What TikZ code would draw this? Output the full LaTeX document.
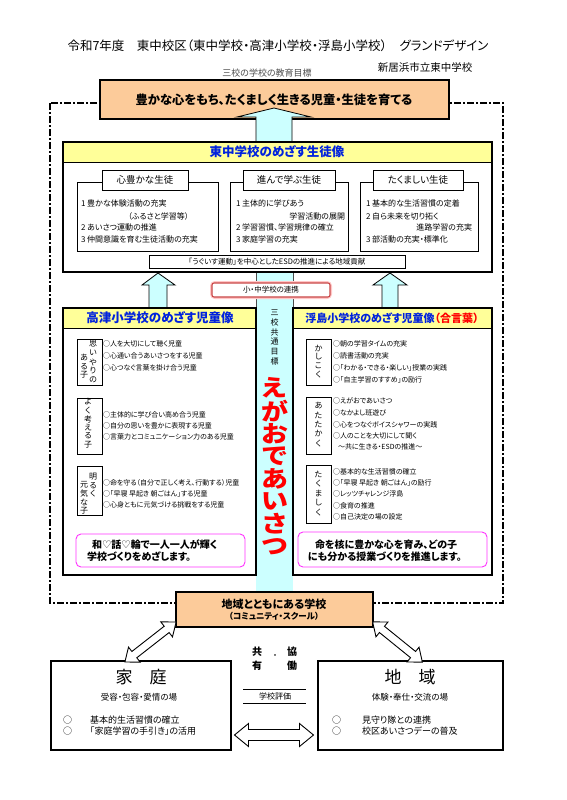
\documentclass[tikz,border=0pt]{standalone}
\usepackage{fontspec}
\setmainfont{Noto Sans CJK JP}[RawFeature=+palt]
\newfontfamily\symfont{DejaVu Sans}
\definecolor{peach}{HTML}{FCCB9A}
\definecolor{lyellow}{HTML}{FFFF99}
\definecolor{lcyan}{HTML}{CCFFFF}
\definecolor{tblue}{HTML}{0022DD}
\definecolor{mag}{HTML}{FF33FF}
\definecolor{glowred}{HTML}{C84646}
\newcommand\fs[1]{\fontsize{#1}{#1}\selectfont}
\newcommand\vcol[5]{\foreach \c [count=\i] in {#5} {\node[vlab] (#1\i) at (#2,{#3+(\i-1)*#4}) {\c};}}
\newcommand\dblarr[7]{%
 \begin{scope}[shift={(#1,#2)}, rotate=#3]
  \draw[whitearrow] ({-#4/2},0) -- ({-#4/2+#7},{#5/2}) -- ({-#4/2+#7},{#6/2}) -- ({#4/2-#7},{#6/2}) -- ({#4/2-#7},{#5/2}) -- ({#4/2},0) -- ({#4/2-#7},{-#5/2}) -- ({#4/2-#7},{-#6/2}) -- ({-#4/2+#7},{-#6/2}) -- ({-#4/2+#7},{-#5/2}) -- cycle;
 \end{scope}}
\tikzset{
  every node/.style={inner sep=0pt, outer sep=0pt},
  thickbox/.style={draw, line width=1.4pt},
  subbox/.style={draw, line width=0.8pt},
  frame/.style={draw, line width=1.1pt, dash pattern=on 7pt off 2pt on 2pt off 2pt},
  cyanarrow/.style={draw, line width=0.8pt, fill=lcyan},
  whitearrow/.style={draw, line width=0.9pt, fill=white},
  item/.style={anchor=west, font=\fs{7}},
  sitem/.style={anchor=west, font=\fs{8}},
  vlab/.style={font=\fs{8}},
  htitle/.style={font=\fs{12.5}\bfseries, text=tblue},
  magbox/.style={draw=mag, line width=0.9pt, rounded corners=5pt, fill=white},
  magtext/.style={anchor=west, font=\fs{10}\bfseries},
  btext/.style={anchor=west, font=\fs{9}},
}
\begin{document}
\begin{tikzpicture}[x=1pt,y=-1pt]
\useasboundingbox (0,0) rectangle (566,800);
% header texts
\node[font=\fs{12.5}] (title) at (278,46) {令和7年度　東中校区（東中学校・高津小学校・浮島小学校）　グランドデザイン};
\node[font=\fs{10.5}] (school) at (425,68) {新居浜市立東中学校};
\node[font=\fs{9}, text=black!70] (goal) at (267,73) {三校の学校の教育目標};
% dashed frame
\draw[frame] (50,103) rectangle (503,603);
% top goal box
\draw[thickbox, fill=peach] (100,80) rectangle (449,119);
\node[font=\fs{12.3}\bfseries] (topgoal) at (274,100) {豊かな心をもち、たくましく生きる児童・生徒を育てる};
% central column
\fill[lcyan] (256,272) rectangle (293,593);
\draw[line width=0.5pt, black!70] (256,272) -- (256,308) (293,272) -- (293,308);
% up arrow to top goal
\draw[cyanarrow] (256,142) -- (256,117) -- (237,117) -- (274,108) -- (311,117) -- (292,117) -- (292,142);
% Higashi box
\draw[thickbox, fill=white] (63,142) rectangle (492,272);
\fill[lyellow] (63,142) rectangle (492,162);
\draw[line width=0.9pt] (63,162) -- (492,162);
\draw[thickbox] (63,142) rectangle (492,272);
\node[htitle] (htitle) at (277,152) {東中学校のめざす生徒像};
% three sub boxes
\draw[subbox] (77,182) rectangle (218,251);
\draw[subbox, fill=white] (102,170) rectangle (188,190);
\node[font=\fs{9.5}] (s1) at (145,180) {心豊かな生徒};
\draw[subbox] (230,182) rectangle (348,251);
\draw[subbox, fill=white] (243,170) rectangle (335,190);
\node[font=\fs{9.5}] (s2) at (289,180) {進んで学ぶ生徒};
\draw[subbox] (360,182) rectangle (478,251);
\draw[subbox, fill=white] (373,170) rectangle (463,190);
\node[font=\fs{9.5}] (s3) at (418,180) {たくましい生徒};
\node[sitem] (a1) at (81,203) {1 豊かな体験活動の充実};
\node[sitem] (a2) at (128,216) {（ふるさと学習等）};
\node[sitem] (a3) at (81,227) {2 あいさつ運動の推進};
\node[sitem] (a4) at (81,239) {3 仲間意識を育む生徒活動の充実};
\node[sitem] (b1) at (236,203) {1 主体的に学びあう};
\node[sitem, anchor=east] (b2) at (345,216) {学習活動の展開};
\node[sitem] (b3) at (236,227) {2 学習習慣、学習規律の確立};
\node[sitem] (b4) at (236,239) {3 家庭学習の充実};
\node[sitem] (c1) at (366,203) {1 基本的な生活習慣の定着};
\node[sitem] (c2) at (366,216) {2 自ら未来を切り拓く};
\node[sitem, anchor=east] (c3) at (472,227) {進路学習の充実};
\node[sitem] (c4) at (366,239) {3 部活動の充実・標準化};
\draw[subbox, fill=white] (149,255) rectangle (405,268);
\node[font=\fs{7.5}] (esd) at (277,261.5) {「うぐいす運動」を中心としたESDの推進による地域貢献};
% up arrows from elementary boxes
\draw[cyanarrow] (149,308) -- (149,285) -- (142,285) -- (158,273) -- (175,285) -- (167,285) -- (167,308);
\draw[cyanarrow] (382,308) -- (382,285) -- (373,285) -- (390,273) -- (407,285) -- (398,285) -- (398,308);
% link box with glow
\draw[line width=4pt, red!22, rounded corners=3pt] (212,283) rectangle (330,297);
\draw[line width=1.1pt, draw=glowred, fill=white, rounded corners=2pt] (212,283) rectangle (330,297);
\node[font=\fs{7.5}] (link) at (271,290) {小・中学校の連携};
% Takatsu box
\draw[thickbox, fill=white] (63,308) rectangle (256,575);
\fill[lyellow] (63,308) rectangle (256,328);
\draw[line width=0.9pt] (63,328) -- (256,328);
\draw[thickbox] (63,308) rectangle (256,575);
\node[htitle] (ttitle) at (160,318) {高津小学校のめざす児童像};
\draw[subbox] (77,339) rectangle (102,385);
\vcol{ta}{93}{344}{9}{思,い,や,り,の}
\vcol{tb}{84}{358}{8.5}{あ,る,子}
\draw[subbox] (77,398) rectangle (102,454);
\vcol{tc}{88}{402}{8.5}{よ,く,考,え,る,子}
\draw[subbox] (77,466) rectangle (102,515);
\vcol{td}{93}{477}{8.2}{明,る,く}
\vcol{te}{84}{485}{8.7}{元,気,な,子}
\node[item] (t1) at (103,344) {○人を大切にして聴く児童};
\node[item] (t2) at (103,356) {○心通い合うあいさつをする児童};
\node[item] (t3) at (103,368) {○心つなぐ言葉を掛け合う児童};
\node[item] (t4) at (103,415) {○主体的に学び合い高め合う児童};
\node[item] (t5) at (103,426) {○自分の思いを豊かに表現する児童};
\node[item] (t6) at (103,437) {○言葉力とコミュニケーション力のある児童};
\node[item] (t7) at (103,483) {○命を守る（自分で正しく考え、行動する）児童};
\node[item] (t8) at (103,494) {○「早寝 早起き 朝ごはん」する児童};
\node[item] (t9) at (103,505) {○心身ともに元気づける挑戦をする児童};
\draw[magbox] (76,534) rectangle (245,567);
\node[magtext] (tm1) at (92,545) {和{\symfont\fs{10.5}\char"2661}話{\symfont\fs{10.5}\char"2661}輪で一人一人が輝く};
\node[magtext] (tm2) at (87,557) {学校づくりをめざします。};
% Ukishima box
\draw[thickbox, fill=white] (293,308) rectangle (492,575);
\fill[lyellow] (293,308) rectangle (492,328);
\draw[line width=0.9pt] (293,328) -- (492,328);
\draw[thickbox] (293,308) rectangle (492,575);
\node[font=\fs{11}\bfseries, text=tblue] (utitle) at (392,318) {浮島小学校のめざす児童像\textcolor{red}{（合言葉）}};
\draw[subbox] (306,339) rectangle (331,385);
\vcol{ua}{318.5}{348}{8.8}{か,し,こ,く}
\draw[subbox] (306,397) rectangle (331,454);
\vcol{ub}{318.5}{406}{9.3}{あ,た,た,か,く}
\draw[subbox] (306,465) rectangle (331,523);
\vcol{uc}{318.5}{474}{9.6}{た,く,ま,し,く}
\node[item] (u1) at (333,344) {○朝の学習タイムの充実};
\node[item] (u2) at (333,356) {○読書活動の充実};
\node[item] (u3) at (333,368) {○「わかる・できる・楽しい」授業の実践};
\node[item] (u4) at (333,380) {○「自主学習のすすめ」の励行};
\node[item] (u5) at (333,401) {○えがおであいさつ};
\node[item] (u6) at (333,413) {○なかよし班遊び};
\node[item] (u7) at (333,425) {○心をつなぐボイスシャワーの実践};
\node[item] (u8) at (333,436) {○人のことを大切にして聞く};
\node[item] (u9) at (338,447) {～共に生きる・ESDの推進～};
\node[item] (u10) at (333,472) {○基本的な生活習慣の確立};
\node[item] (u11) at (333,483) {○「早寝 早起き 朝ごはん」の励行};
\node[item] (u12) at (333,494) {○レッツチャレンジ浮島};
\node[item] (u13) at (333,506) {○食育の推進};
\node[item] (u14) at (333,517) {○自己決定の場の設定};
\draw[magbox] (298,532) rectangle (487,567);
\node[magtext] (um1) at (315,545) {命を核に豊かな心を育み、どの子};
\node[magtext] (um2) at (308,557) {にも分かる授業づくりを推進します。};
% central column texts
\vcol{cm}{274.5}{313}{9.6}{三,校,共,通,目,標}
\foreach \c [count=\i] in {え,が,お,で,あ,い,さ,つ}
  {\node[text=red] (eg\i) at (274.5,{388+(\i-1)*22.6}) {\scalebox{1}[0.86]{\fs{27}\bfseries\c}};}
% community school box
\draw[thickbox, fill=peach] (176,592) rectangle (373,627);
\node[font=\fs{11}\bfseries] (cs1) at (274,604) {地域とともにある学校};
\node[font=\fs{8.5}\bfseries] (cs2) at (274,616) {（コミュニティ・スクール）};
% home / region boxes
\draw[thickbox, fill=white] (51,661) rectangle (231,750);
\node[font=\fs{17}] (home) at (141,677) {家　庭};
\node[font=\fs{8.5}] (homesub) at (139,697) {受容・包容・愛情の場};
\node[btext] (h1a) at (63,720) {○};
\node[btext] (h1) at (90,720) {基本的生活習慣の確立};
\node[btext] (h2a) at (63,731) {○};
\node[btext] (h2) at (90,731) {「家庭学習の手引き」の活用};
\draw[thickbox, fill=white] (318,661) rectangle (503,750);
\node[font=\fs{17}] (area) at (410,677) {地　域};
\node[font=\fs{8.5}] (areasub) at (410,697) {体験・奉仕・交流の場};
\node[btext] (r1a) at (332,720) {○};
\node[btext] (r1) at (362,720) {見守り隊との連携};
\node[btext] (r2a) at (332,731) {○};
\node[btext] (r2) at (362,731) {校区あいさつデーの普及};
% middle words
\node[font=\fs{10}\bfseries] (k1) at (257,652) {共};
\node[font=\fs{10}\bfseries] (k2) at (292,652) {協};
\node[font=\fs{8}] (k3) at (275,657) {・};
\node[font=\fs{10}\bfseries] (k4) at (257,666) {有};
\node[font=\fs{10}\bfseries] (k5) at (292,666) {働};
\draw[line width=0.7pt] (243,689) -- (306,689) (243,703) -- (306,703);
\node[font=\fs{8}] (eval) at (275,696) {学校評価};
% block arrows
\dblarr{150.5}{642}{38}{65}{19}{8}{12}
\dblarr{397.5}{642}{-39}{64}{19}{8}{12}
\dblarr{274}{735}{0}{79}{23}{11}{14}
\end{tikzpicture}
\end{document}
